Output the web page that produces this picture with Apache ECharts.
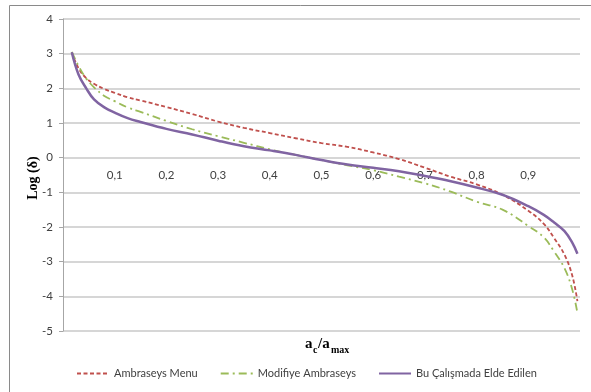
<!DOCTYPE html>
<html><head><meta charset="utf-8">
<script src="https://cdn.jsdelivr.net/npm/echarts@6/dist/echarts.min.js"></script>
<style>html,body{margin:0;padding:0;background:#fff}#c{width:591px;height:392px}</style>
</head><body><div id="c"></div>
<script>
const xValues = [0.017,0.03,0.045,0.06,0.08,0.1,0.125,0.15,0.2,0.25,0.3,0.35,0.4,0.45,0.5,0.55,0.6,0.65,0.7,0.75,0.8,0.85,0.9,0.93,0.95,0.97,0.985,0.995];
const ambraseysMenu = [3.04,2.58,2.29,2.13,1.98,1.87,1.74,1.65,1.46,1.26,1.04,0.86,0.71,0.56,0.42,0.31,0.15,-0.04,-0.29,-0.55,-0.77,-1.07,-1.53,-1.91,-2.32,-2.80,-3.40,-4.14];
const modifiyeAmbraseys = [3.05,2.65,2.28,2.03,1.78,1.63,1.45,1.32,1.06,0.82,0.62,0.43,0.24,0.08,-0.07,-0.22,-0.36,-0.55,-0.74,-0.98,-1.27,-1.50,-1.97,-2.30,-2.71,-3.19,-3.80,-4.48];
const buCalisma = [3.04,2.40,2.00,1.68,1.45,1.30,1.14,1.03,0.83,0.67,0.49,0.33,0.21,0.08,-0.07,-0.20,-0.29,-0.39,-0.53,-0.68,-0.86,-1.07,-1.40,-1.65,-1.87,-2.12,-2.45,-2.77];
const seriesNames = ['Ambraseys Menu','Modifiye Ambraseys','Bu Çalışmada Elde Edilen'];
const xTickLabels = ['0,1','0,2','0,3','0,4','0,5','0,6','0,7','0,8','0,9'];
const yAxisTitle = 'Log (δ)';

const pair = arr => xValues.map((x,i)=>[x,arr[i]]);
const chart = echarts.init(document.getElementById('c'));
const font = "Lato, 'Open Sans', sans-serif";
const serif = "'Liberation Serif', serif";
const big = {fontFamily:serif,fontWeight:'bold',fontSize:15,fill:'#000',textVerticalAlign:'bottom'};
const small = {fontFamily:serif,fontWeight:'bold',fontSize:10,fill:'#000',textVerticalAlign:'bottom'};
chart.setOption({
  animation:false,
  textStyle:{fontFamily:font},
  grid:{left:63,top:19,right:11,bottom:61},
  graphic:[
    {type:'rect',shape:{x:9.5,y:5.5,width:640,height:440},style:{fill:'none',stroke:'#8a8a8a',lineWidth:1},silent:true},
    {type:'text',x:33,y:178,rotation:Math.PI/2,silent:true,
     style:{text:yAxisTitle,fontFamily:serif,fontWeight:'bold',fontSize:14,fill:'#000',textAlign:'center',textVerticalAlign:'middle'}},
    {type:'group',silent:true,children:[
      {type:'text',x:305,y:352,style:Object.assign({text:'a'},big)},
      {type:'text',x:313,y:355,style:Object.assign({text:'c'},small)},
      {type:'text',x:318,y:352,style:Object.assign({text:'/a'},big)},
      {type:'text',x:331,y:355,style:Object.assign({text:'max'},small)}
    ]}
  ],
  legend:{
    bottom:8, left:71, itemGap:22, itemWidth:32, itemHeight:10,
    itemStyle:{opacity:0},
    textStyle:{fontFamily:font,fontSize:11,color:'#404040'},
    data:seriesNames
  },
  xAxis:{
    type:'value',min:0,max:1,interval:0.1,
    position:'bottom',offset:-173.5,
    axisLine:{show:false,onZero:false},
    axisTick:{show:false},
    splitLine:{show:false},
    axisLabel:{
      margin:12,fontSize:11.5,color:'#404040',
      formatter:function(v){const k=Math.round(v*10);return (k>=1&&k<=9)?xTickLabels[k-1]:'';}
    }
  },
  yAxis:{
    type:'value',min:-5,max:4,interval:1,
    axisLine:{show:true,lineStyle:{color:'#a6a6a6',width:1}},
    axisTick:{show:true,length:4,lineStyle:{color:'#a6a6a6'}},
    axisLabel:{margin:10,fontSize:11.5,color:'#404040'},
    splitLine:{lineStyle:{color:'#c8c8c8',width:1.5}}
  },
  series:[
    {name:seriesNames[0],type:'line',smooth:0.4,showSymbol:false,symbol:'none',data:pair(ambraseysMenu),
     lineStyle:{color:'#c0504d',width:1.8,type:[4,2.5]},itemStyle:{color:'#c0504d'}},
    {name:seriesNames[1],type:'line',smooth:0.4,showSymbol:false,symbol:'none',data:pair(modifiyeAmbraseys),
     lineStyle:{color:'#9bbb59',width:1.8,type:[8,4,2,4]},itemStyle:{color:'#9bbb59'}},
    {name:seriesNames[2],type:'line',smooth:0.4,showSymbol:false,symbol:'none',data:pair(buCalisma),
     lineStyle:{color:'#8064a2',width:2.5},itemStyle:{color:'#8064a2'}}
  ]
});
</script></body></html>
